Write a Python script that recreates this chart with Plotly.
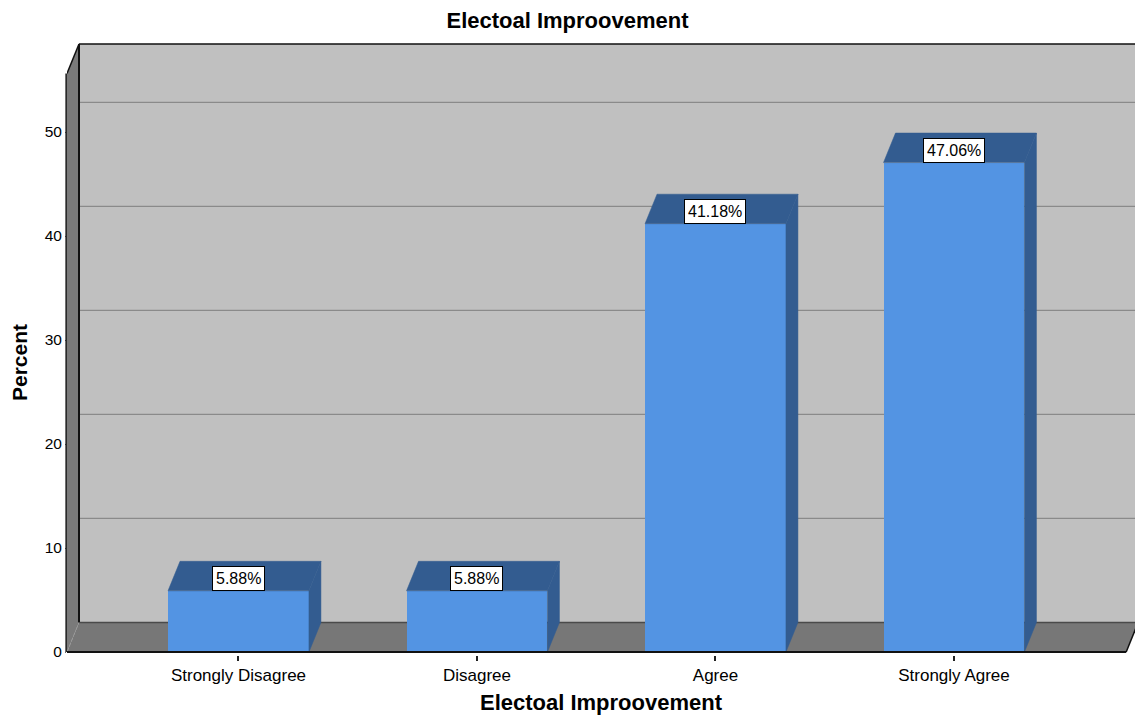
import plotly.graph_objects as go

# ---- data -------------------------------------------------------------
categories = ["Strongly Disagree", "Disagree", "Agree", "Strongly Agree"]
percents = [5.88, 5.88, 41.18, 47.06]
y_ticks = [0, 10, 20, 30, 40, 50]
chart_title = "Electoal Improovement"
x_title = "Electoal Improovement"
y_title = "Percent"

# ---- 3-D box geometry (data units) ------------------------------------
positions = list(range(len(categories)))
BAR_W = 0.591          # width of each bar's front face
DX, DY = 0.0503, 2.84  # depth offset of the back plane
X_LO, X_HI = -0.719, 3.759
Y_LO, Y_HI = -0.288, 58.846
FLOOR_R = 3.722        # right end of the front floor edge
WALL_TOP = 58.46       # top of the back wall


def yp(v):
    """Data y -> paper y."""
    return (v - Y_LO) / (Y_HI - Y_LO)


FONT = "Liberation Sans, Arial, sans-serif"
FRONT = "#5394E3"
SHADE = "#335C90"

fig = go.Figure()

shapes = []
# back wall
shapes.append(dict(type="rect", xref="x", yref="y", layer="below",
                   x0=X_LO + DX, x1=X_HI + 1, y0=DY, y1=WALL_TOP,
                   fillcolor="#C0C0C0", line=dict(width=0)))
# horizontal grid lines on the back wall
for t in y_ticks[1:]:
    shapes.append(dict(type="line", xref="x", yref="y", layer="below",
                       x0=X_LO + DX, x1=X_HI + 1, y0=t + DY, y1=t + DY,
                       line=dict(color="#8A8A8A", width=1.3)))
# left wall
shapes.append(dict(type="path", xref="x", yref="y", layer="below",
                   path=(f"M {X_LO},{0} L {X_LO},{WALL_TOP - DY} "
                         f"L {X_LO + DX},{WALL_TOP} L {X_LO + DX},{DY} Z"),
                   fillcolor="#7A7A7A", line=dict(width=0)))
# floor
shapes.append(dict(type="path", xref="x", yref="y", layer="below",
                   path=(f"M {X_LO},0 L {FLOOR_R},0 L {FLOOR_R + DX},{DY} "
                         f"L {X_LO + DX},{DY} Z"),
                   fillcolor="#777777", line=dict(width=0)))
# edges
shapes += [
    dict(type="line", xref="x", yref="y", layer="below",
         x0=X_LO + DX, x1=X_HI + 1, y0=DY, y1=DY,
         line=dict(color="#4A4A4A", width=1.5)),
    dict(type="line", xref="x", yref="y", layer="below",
         x0=X_LO + DX, x1=X_LO + DX, y0=DY, y1=WALL_TOP,
         line=dict(color="#111111", width=2)),
    dict(type="line", xref="x", yref="y", layer="below",
         x0=X_LO + DX, x1=X_HI + 1, y0=WALL_TOP, y1=WALL_TOP,
         line=dict(color="#111111", width=1.5)),
    dict(type="line", xref="x", yref="y", layer="below",
         x0=X_LO, x1=X_LO + DX, y0=WALL_TOP - DY, y1=WALL_TOP,
         line=dict(color="#111111", width=1.5)),
    dict(type="line", xref="x", yref="y", layer="below",
         x0=X_LO, x1=X_LO + DX, y0=0, y1=DY,
         line=dict(color="#9A9A9A", width=1, dash="dot")),
    dict(type="line", xref="x", yref="y", layer="below",
         x0=FLOOR_R, x1=FLOOR_R + DX, y0=0, y1=DY,
         line=dict(color="#111111", width=1.5)),
    # front-left vertical edge (value axis line)
    dict(type="line", xref="paper", yref="paper", layer="above",
         x0=-0.0008, x1=-0.0008, y0=yp(0), y1=yp(WALL_TOP - DY),
         line=dict(color="#111111", width=1.5)),
]

# front faces of the bars
fig.add_trace(go.Bar(x=positions, y=percents, width=BAR_W,
                     marker=dict(color=FRONT, line=dict(width=0)),
                     hoverinfo="skip", showlegend=False))

# top and side faces of the bars
for p, v in zip(positions, percents):
    l, r = p - BAR_W / 2, p + BAR_W / 2
    fig.add_trace(go.Scatter(
        x=[l, l + DX, r + DX, r, l], y=[v, v + DY, v + DY, v, v],
        fill="toself", fillcolor=SHADE, mode="lines",
        line=dict(width=0.5, color=SHADE), hoverinfo="skip", showlegend=False))
    fig.add_trace(go.Scatter(
        x=[r, r, r + DX, r + DX, r], y=[0, v, v + DY, DY, 0],
        fill="toself", fillcolor=SHADE, mode="lines",
        line=dict(width=0.5, color=SHADE), hoverinfo="skip", showlegend=False))

# front floor edge
shapes.append(dict(type="line", xref="x", yref="y", layer="above",
                   x0=X_LO, x1=FLOOR_R, y0=0, y1=0,
                   line=dict(color="#111111", width=2)))

# value labels
annotations = [
    dict(x=p, y=v, xref="x", yref="y", text=f"{v:.2f}%", showarrow=False,
         yanchor="bottom", xanchor="center", bgcolor="white",
         bordercolor="black", borderwidth=1, borderpad=3,
         font=dict(family=FONT, size=16, color="black"))
    for p, v in zip(positions, percents)
]
# value-axis title, centred on the front plane
annotations.append(dict(
    x=-0.0438, xref="paper", y=yp((WALL_TOP - DY) / 2), yref="paper",
    text=f"<b>{y_title}</b>", textangle=-90, showarrow=False,
    xanchor="center", yanchor="middle",
    font=dict(family=FONT, size=21, color="black")))

fig.update_layout(
    width=1135, height=716,
    margin=dict(l=67, r=0, t=40, b=61),
    paper_bgcolor="white", plot_bgcolor="white",
    font=dict(family=FONT, color="black"),
    title=dict(text=f"<b>{chart_title}</b>", x=0.5, xref="container",
               xanchor="center", y=1 - 20 / 716, yref="container",
               yanchor="middle", font=dict(size=22, family=FONT)),
    xaxis=dict(range=[X_LO, X_HI], tickvals=positions, ticktext=categories,
               showgrid=False, zeroline=False, showline=False,
               ticks="outside", ticklen=5, tickwidth=2, tickcolor="#222222",
               tickfont=dict(size=17),
               title=dict(text=f"<b>{x_title}</b>", font=dict(size=22),
                          standoff=10)),
    yaxis=dict(range=[Y_LO, Y_HI], tickvals=y_ticks,
               showgrid=False, zeroline=False, showline=False,
               ticks="outside", ticklen=1, tickcolor="#666666",
               tickfont=dict(size=15.5)),
    shapes=shapes,
    annotations=annotations,
    bargap=0,
)

fig.write_html("out.html")
